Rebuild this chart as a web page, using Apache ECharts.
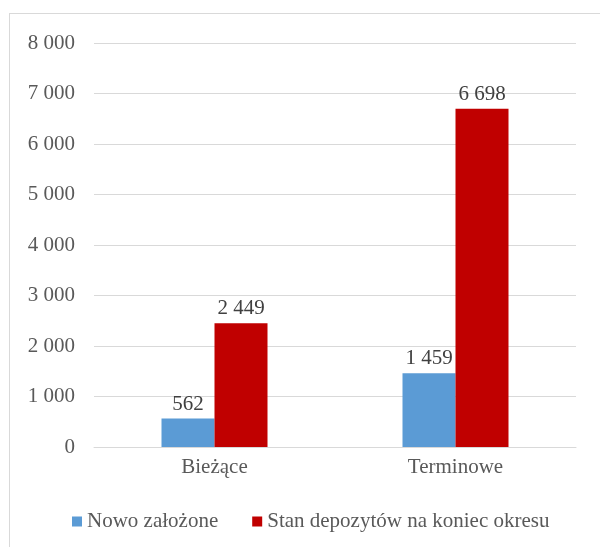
<!DOCTYPE html>
<html>
<head>
<meta charset="utf-8">
<script src="https://cdn.jsdelivr.net/npm/echarts@6/dist/echarts.min.js"></script>
<style>
  html, body { margin: 0; padding: 0; background: #fff; overflow: hidden; }
  #frame { position: absolute; left: 9px; top: 13px; width: 800px; height: 800px; border: 1px solid #d9d9d9; }
  #chart { position: absolute; left: 0; top: 0; width: 600px; height: 547px; }
</style>
</head>
<body>
<div id="frame"></div>
<div id="chart"></div>
<script>
const categories = ['Bieżące', 'Terminowe'];
const seriesNames = ['Nowo założone', 'Stan depozytów na koniec okresu'];
const newlyOpened = [562, 1459];
const endBalance = [2449, 6698];
const colors = ['#5b9bd5', '#c00000'];

// thousands separated by a space, as in the source
const fmt = (v) => String(v).replace(/\B(?=(\d{3})+(?!\d))/g, ' ');

const font = 'Liberation Serif, Times New Roman, serif';
const chart = echarts.init(document.getElementById('chart'));

const labelCfg = {
  show: true,
  position: 'top',
  distance: 4,
  color: '#404040',
  fontFamily: font,
  fontSize: 21,
  formatter: (p) => fmt(p.value),
};

chart.setOption({
  animation: false,
  textStyle: { fontFamily: font },
  grid: { left: 94, right: 24, top: 43, bottom: 100 },
  legend: {
    bottom: 10,
    left: 67,
    itemWidth: 10,
    itemHeight: 10,
    itemGap: 34,
    icon: 'rect',
    textStyle: { color: '#595959', fontFamily: font, fontSize: 21 },
    data: seriesNames,
  },
  xAxis: {
    type: 'category',
    data: categories,
    axisTick: { show: false },
    axisLine: { lineStyle: { color: '#d9d9d9', width: 1 } },
    axisLabel: { color: '#595959', fontFamily: font, fontSize: 21, margin: 10 },
  },
  yAxis: {
    type: 'value',
    min: 0,
    max: 8000,
    interval: 1000,
    axisLine: { show: false },
    axisTick: { show: false },
    splitLine: { lineStyle: { color: '#d9d9d9', width: 1 } },
    axisLabel: { color: '#595959', fontFamily: font, fontSize: 21, margin: 19, formatter: fmt },
  },
  series: [
    {
      name: seriesNames[0],
      type: 'bar',
      data: newlyOpened,
      barWidth: 53,
      barGap: '0%',
      itemStyle: { color: colors[0] },
      label: labelCfg,
    },
    {
      name: seriesNames[1],
      type: 'bar',
      data: endBalance,
      barWidth: 53,
      barGap: '0%',
      itemStyle: { color: colors[1] },
      label: labelCfg,
    },
  ],
});
</script>
</body>
</html>
